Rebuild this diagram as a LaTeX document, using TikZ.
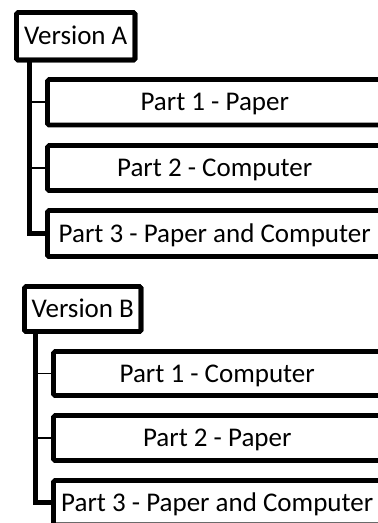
\documentclass[tikz,border=0pt]{standalone}
\usepackage{fontspec}
\setmainfont{Carlito}
\begin{document}
\begin{tikzpicture}[x=1pt,y=-1pt,
  box/.style={draw=black, line width=4.6pt, fill=white, rounded corners=1.5pt,
    inner sep=0pt, outer sep=0pt, font=\fontsize{27}{31}\selectfont,
    text height=17.4pt, text depth=0pt, anchor=north west},
  trunk/.style={line width=4.6pt, line join=miter},
  tick/.style={line width=1.6pt}]
\useasboundingbox (0,0) rectangle (378,523);
\clip (0,0) rectangle (378,523);
% Version A
\coordinate (tA) at (29.5,58);
\node[box, minimum width=118.5pt, minimum height=47.5pt] (vA) at (16.5,12.5) {Version A};
\node[box, minimum width=334.5pt, minimum height=45.5pt] (A1) at (47.5,79.5) {Part 1 - Paper};
\node[box, minimum width=334.5pt, minimum height=45pt] (A2) at (47.5,145.5) {Part 2 - Computer};
\node[box, minimum width=334.5pt, minimum height=46pt] (A3) at (47.5,210.5) {Part 3 - Paper and Computer};
\draw[trunk] (tA) |- (A3.west);
\draw[tick] (A1.west -| tA) -- (A1.west);
\draw[tick] (A2.west -| tA) -- (A2.west);
% Version B
\coordinate (tB) at (35.5,330);
\node[box, minimum width=116.5pt, minimum height=45pt] (vB) at (24.5,286.5) {Version B};
\node[box, minimum width=327.5pt, minimum height=44pt] (B1) at (53.5,351.5) {Part 1 - Computer};
\node[box, minimum width=327.5pt, minimum height=45pt] (B2) at (53.5,415.5) {Part 2 - Paper};
\node[box, minimum width=327.5pt, minimum height=44.5pt] (B3) at (53.5,480.5) {Part 3 - Paper and Computer};
\draw[trunk] (tB) |- (B3.west);
\draw[tick] (B1.west -| tB) -- (B1.west);
\draw[tick] (B2.west -| tB) -- (B2.west);
% redraw box borders over trunk ends
\draw[line width=4.6pt, rounded corners=1.5pt] (vA.north west) rectangle (vA.south east);
\draw[line width=4.6pt, rounded corners=1.5pt] (vB.north west) rectangle (vB.south east);
\draw[line width=4.6pt, rounded corners=1.5pt] (A3.north west) rectangle (A3.south east);
\draw[line width=4.6pt, rounded corners=1.5pt] (B3.north west) rectangle (B3.south east);
\end{tikzpicture}
\end{document}
